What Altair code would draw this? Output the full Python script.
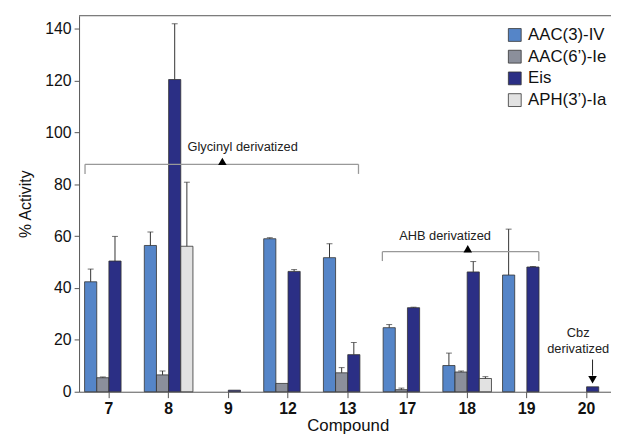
import altair as alt
import pandas as pd

compounds = ["7", "8", "9", "12", "13", "17", "18", "19", "20"]
series = ["AAC(3)-IV", "AAC(6’)-Ie", "Eis", "APH(3’)-Ia"]
colors = ["#5585C8", "#8B8F9B", "#2B2F85", "#E2E2E2"]

aac3_val = [42.4, 56.4, 0.0, 59.0, 51.7, 24.7, 10.1, 45.0, 0.0]
aac3_err = [4.9, 5.2, 0.0, 0.4, 5.4, 1.2, 4.8, 17.7, 0.0]
aac6_val = [5.4, 6.5, 0.0, 3.2, 7.3, 0.8, 7.6, 0.0, 0.0]
aac6_err = [0.3, 1.5, 0.0, 0.0, 2.0, 0.6, 0.4, 0.0, 0.0]
eis_val = [50.4, 120.4, 0.6, 46.4, 14.3, 32.4, 46.2, 48.1, 1.9]
eis_err = [9.5, 21.5, 0.0, 0.7, 4.7, 0.2, 4.0, 0.2, 0.0]
aph_val = [0.0, 56.1, 0.0, 0.0, 0.0, 0.0, 5.1, 0.0, 0.0]
aph_err = [0.0, 24.7, 0.0, 0.0, 0.0, 0.0, 0.7, 0.0, 0.0]

y_ticks = [0, 20, 40, 60, 80, 100, 120, 140]
y_max = 145

# annotations (x in compound-index units, y in % activity)
bracket_names = ["Glycinyl derivatized", "AHB derivatized"]
bracket_left = [-0.40, 4.58]
bracket_right = [4.18, 7.20]
bracket_line = [87.7, 54.0]
bracket_drop = [84.0, 50.4]
bracket_tri_x = [1.90, 6.01]
bracket_text_x = [2.24, 5.63]
bracket_text_y = [94.4, 59.9]

cbz_lines = ["Cbz", "derivatized"]
cbz_text_x = [7.86, 7.86]
cbz_text_y = [22.6, 16.5]
cbz_arrow_x = 8.10
cbz_arrow_top = 12.4
cbz_arrow_bottom = 6.2
cbz_tri_y = 4.6

rows = []
for s, vals, errs in [
    (series[0], aac3_val, aac3_err),
    (series[1], aac6_val, aac6_err),
    (series[2], eis_val, eis_err),
    (series[3], aph_val, aph_err),
]:
    for c, v, e in zip(compounds, vals, errs):
        rows.append({"compound": c, "series": s, "value": v, "err": e, "top": v + e})
df = pd.DataFrame(rows)
df_bars = df[df["value"] > 0]
df_err = df[df["err"] > 0]

PLOT_RANGE = [0, 544.5]

x_enc = alt.X(
    "compound:N",
    sort=compounds,
    scale=alt.Scale(domain=compounds, range=PLOT_RANGE, paddingInner=0, paddingOuter=0),
    axis=alt.Axis(
        title="Compound",
        labelAngle=0,
        labelFontWeight="bold",
        labelFontSize=16,
        labelPadding=3,
        tickSize=6,
        titleFontSize=17,
        titleFontWeight="normal",
        titlePadding=1,
    ),
)
xoff_enc = alt.XOffset(
    "series:N",
    sort=series,
    scale=alt.Scale(domain=series, paddingInner=0, paddingOuter=0.455),
)
y_enc = alt.Y(
    "value:Q",
    scale=alt.Scale(domain=[0, y_max], nice=False),
    axis=alt.Axis(
        title="% Activity",
        values=y_ticks,
        tickSize=5,
        labelFontSize=16,
        labelPadding=3,
        titleFontSize=16,
        titleFontWeight="normal",
        titlePadding=12,
        grid=False,
    ),
)

bars = alt.Chart(df_bars).mark_bar(stroke="#333333", strokeWidth=0.8).encode(
    x=x_enc,
    xOffset=xoff_enc,
    y=y_enc,
    color=alt.Color(
        "series:N",
        sort=series,
        scale=alt.Scale(domain=series, range=colors),
        legend=alt.Legend(
            title=None,
            orient="none",
            legendX=433,
            legendY=11,
            symbolType="square",
            symbolSize=169,
            symbolStrokeColor="#333333",
            symbolStrokeWidth=0.8,
            labelFontSize=17,
            labelOffset=5,
            rowPadding=4,
            padding=0,
        ),
    ),
)

err_rule = alt.Chart(df_err).mark_rule(color="#333333", strokeWidth=1).encode(
    x=x_enc, xOffset=xoff_enc, y="value:Q", y2="top:Q"
)
err_cap = alt.Chart(df_err).mark_tick(color="#333333", thickness=1, size=6).encode(
    x=x_enc, xOffset=xoff_enc, y="top:Q"
)

top_line = alt.Chart(pd.DataFrame({"y": [y_max]})).mark_rule(color="#555555", strokeWidth=1).encode(
    y="y:Q"
)

data_layer = alt.layer(bars, err_rule, err_cap, top_line)

# annotation layer on an index-based linear scale
ax = alt.Scale(domain=[-0.5, 8.5], range=PLOT_RANGE, nice=False, zero=False)

seg_rows = []
for i in range(len(bracket_names)):
    seg_rows.append({"x": bracket_left[i], "x2": bracket_right[i], "y": bracket_line[i], "y2": bracket_line[i]})
    seg_rows.append({"x": bracket_left[i], "x2": bracket_left[i], "y": bracket_line[i], "y2": bracket_drop[i]})
    seg_rows.append({"x": bracket_right[i], "x2": bracket_right[i], "y": bracket_line[i], "y2": bracket_drop[i]})
seg_df = pd.DataFrame(seg_rows)
arrow_df = pd.DataFrame({"x": [cbz_arrow_x], "y": [cbz_arrow_top], "y2": [cbz_arrow_bottom]})

brackets = alt.Chart(seg_df).mark_rule(color="#999999", strokeWidth=1.3).encode(
    x=alt.X("x:Q", scale=ax, axis=None), x2="x2:Q", y="y:Q", y2="y2:Q"
)
arrow = alt.Chart(arrow_df).mark_rule(color="#222222", strokeWidth=1).encode(
    x=alt.X("x:Q", scale=ax, axis=None), y="y:Q", y2="y2:Q"
)
tri_up = alt.Chart(pd.DataFrame({"x": bracket_tri_x, "y": bracket_line})).mark_point(
    shape="triangle-up", filled=True, color="#000000", size=75, opacity=1, yOffset=-3
).encode(x=alt.X("x:Q", scale=ax, axis=None), y="y:Q")
tri_down = alt.Chart(pd.DataFrame({"x": [cbz_arrow_x], "y": [cbz_tri_y]})).mark_point(
    shape="triangle-down", filled=True, color="#000000", size=75, opacity=1
).encode(x=alt.X("x:Q", scale=ax, axis=None), y="y:Q")

txt_df = pd.DataFrame({
    "x": bracket_text_x + cbz_text_x,
    "y": bracket_text_y + cbz_text_y,
    "t": bracket_names + cbz_lines,
})
texts = alt.Chart(txt_df).mark_text(
    fontSize=13, color="#222222", align="center", baseline="middle"
).encode(x=alt.X("x:Q", scale=ax, axis=None), y="y:Q", text="t:N")

annot_layer = alt.layer(brackets, arrow, tri_up, tri_down, texts)

chart = (
    alt.layer(data_layer, annot_layer)
    .resolve_scale(x="independent")
    .properties(
        width=539,
        height=381,
        autosize=alt.AutoSizeParams(type="none"),
        padding={"left": 72, "top": 5, "right": 0, "bottom": 40},
    )
    .configure(font="Liberation Sans")
    .configure_view(stroke=None)
    .configure_axis(
        domainColor="#555555",
        tickColor="#555555",
        labelColor="#111111",
        titleColor="#111111",
        labelFont="Liberation Sans",
        titleFont="Liberation Sans",
    )
    .configure_legend(labelFont="Liberation Sans", labelColor="#111111")
)

chart.save("out.html", embed_options={"renderer": "svg", "actions": False})
